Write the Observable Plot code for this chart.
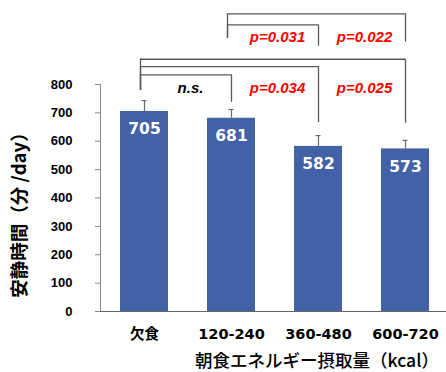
<!DOCTYPE html>
<html>
<head>
<meta charset="utf-8">
<script src="https://cdn.jsdelivr.net/npm/d3@7"></script>
<script src="https://cdn.jsdelivr.net/npm/@observablehq/plot@0.6"></script>
<style>
  body { margin: 0; background: #fff; }
</style>
</head>
<body>
<div id="chart"></div>
<script>
// Breakfast energy groups and daily sedentary time (minutes/day)
const categories = ["欠食", "120-240", "360-480", "600-720"];
const means = [705, 681, 582, 573];
const sds = [38, 31, 38, 30];
const yTicks = [0, 100, 200, 300, 400, 500, 600, 700, 800];

// Pairwise comparisons shown as brackets above the bars
const compFrom = ["120-240", "120-240", "欠食", "欠食", "欠食"];
const compTo = ["600-720", "360-480", "600-720", "360-480", "120-240"];
const compLabels = ["p=0.022", "p=0.031", "p=0.025", "p=0.034", "n.s."];
// bracket levels, in minutes/day
const compTop = [1049, 1010, 889, 863, 834];
const compLeftEnd = [962, 962, 779, 779, 779];
const compRightEnd = [949, 935, 663, 666, 737];
const compLabelY = [966, 966, 786, 786, 786];

const yTitle = "安静時間（分 /day）";
const xTitle = "朝食エネルギー摂取量（kcal）";

const bars = categories.map((c, i) => ({cat: c, mean: means[i], sd: sds[i]}));
const comps = compFrom.map((f, i) => ({
  from: f, to: compTo[i], label: compLabels[i],
  top: compTop[i], leftEnd: compLeftEnd[i], rightEnd: compRightEnd[i], labelY: compLabelY[i]
}));

// band geometry of the x scale
const xRange = [100, 449];
const padInner = 0.45, padOuter = 0.225;
const step = (xRange[1] - xRange[0]) / (categories.length - padInner + 2 * padOuter);
const bandwidth = step * (1 - padInner);
const legOffset = 4; // left legs sit slightly left of the bar centre

const bracketColor = "#595959";

const chart = Plot.plot({
  width: 446,
  height: 372,
  marginTop: 84,
  marginBottom: 61,
  marginLeft: 100,
  marginRight: 0,
  style: {background: "#fff", overflow: "visible", fontFamily: "Liberation Sans, Arial, sans-serif"},
  x: {domain: categories, range: xRange, paddingInner: padInner, paddingOuter: padOuter, label: null},
  y: {domain: [0, 800], label: null},
  marks: [
    Plot.barY(bars, {x: "cat", y: "mean", fill: "#4361a6"}),
    Plot.ruleX(bars, {x: "cat", y1: "mean", y2: d => d.mean + d.sd, stroke: "#6b6b6b", strokeWidth: 1.2}),
    Plot.tickY(bars, {x: "cat", y: d => d.mean + d.sd, stroke: "#6b6b6b", strokeWidth: 1.2, insetLeft: bandwidth / 2 - 2.5, insetRight: bandwidth / 2 - 2.5}),
    Plot.text(bars, {
      x: "cat", y: "mean", text: d => String(d.mean), dy: 18,
      fill: "white", fontSize: 15.5, fontWeight: "bold", fontFamily: "DejaVu Sans, sans-serif"
    }),
    Plot.axisY({
      ticks: yTicks, tickSize: 5, tickPadding: 23, label: null,
      stroke: "#888", fill: "#000", fontSize: 13, fontWeight: "bold"
    }),
    Plot.frame({anchor: "left", stroke: "#888"}),
    Plot.ruleY([0], {stroke: "#666"}),
    Plot.axisX({
      tickSize: 0, tickPadding: 17, label: null, fill: "#000",
      fontSize: 14.5, fontWeight: "bold", fontFamily: "DejaVu Sans, Noto Sans CJK JP, sans-serif"
    }),
    // brackets
    Plot.ruleY(comps, {
      x1: "from", x2: "to", y: "top",
      insetLeft: bandwidth / 2 - legOffset, insetRight: bandwidth / 2,
      stroke: bracketColor, strokeWidth: 1.3
    }),
    Plot.ruleX(comps, {x: "from", y1: "leftEnd", y2: "top", dx: -legOffset, stroke: bracketColor, strokeWidth: 1.3}),
    Plot.ruleX(comps, {x: "to", y1: "rightEnd", y2: "top", stroke: bracketColor, strokeWidth: 1.3}),
    Plot.text(comps, {
      x: "to", y: "labelY", text: "label", dx: -41,
      fill: d => d.label === "n.s." ? "#000" : "#ff0000",
      fontSize: 15, fontWeight: "bold", fontStyle: "italic"
    }),
    // axis titles
    Plot.text([yTitle], {
      frameAnchor: "left", textAnchor: "middle", rotate: -90, dx: -80, dy: 12.5,
      fontSize: 18.5, fontWeight: "bold", fontFamily: "Noto Sans CJK JP, sans-serif", fill: "#000"
    }),
    Plot.text([xTitle], {
      frameAnchor: "bottom", lineAnchor: "middle", dx: 43.5, dy: 49.5,
      fontSize: 17.5, fontWeight: 500, fontFamily: "Noto Sans CJK JP, sans-serif", fill: "#000"
    })
  ]
});

document.getElementById("chart").appendChild(chart);
</script>
</body>
</html>
